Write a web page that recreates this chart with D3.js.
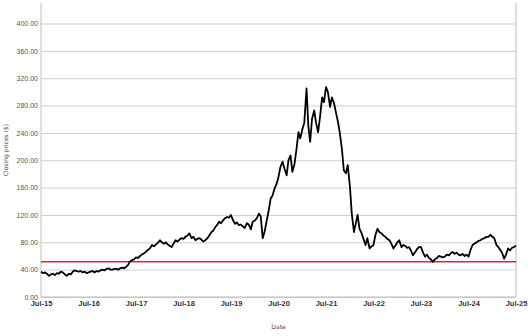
<!DOCTYPE html>
<html>
<head>
<meta charset="utf-8">
<script src="https://cdn.jsdelivr.net/npm/d3@7"></script>
<style>
  body { margin: 0; background: #fff; }
  svg { display: block; font-family: "DejaVu Sans", Verdana, sans-serif; }
  .grid line { stroke: #cfcfcf; stroke-width: 1; }
  .grid .domain { display: none; }
  .y text { fill: #555; font-size: 7px; }
  .x text { fill: #333; font-size: 7.5px; font-weight: bold; }
  .x .domain { display: none; }
</style>
</head>
<body>
<div id="chart"></div>
<script>
// semi-monthly closes
var dates = [
  "2015-07-01","2015-07-15","2015-08-01","2015-08-15","2015-09-01","2015-09-15","2015-10-01","2015-10-15","2015-11-01","2015-11-15","2015-12-01","2015-12-15",
  "2016-01-01","2016-01-15","2016-02-01","2016-02-15","2016-03-01","2016-03-15","2016-04-01","2016-04-15","2016-05-01","2016-05-15","2016-06-01","2016-06-15",
  "2016-07-01","2016-07-15","2016-08-01","2016-08-15","2016-09-01","2016-09-15","2016-10-01","2016-10-15","2016-11-01","2016-11-15","2016-12-01","2016-12-15",
  "2017-01-01","2017-01-15","2017-02-01","2017-02-15","2017-03-01","2017-03-15","2017-04-01","2017-04-15","2017-05-01","2017-05-15","2017-06-01","2017-06-15",
  "2017-07-01","2017-07-15","2017-08-01","2017-08-15","2017-09-01","2017-09-15","2017-10-01","2017-10-15","2017-11-01","2017-11-15","2017-12-01","2017-12-15",
  "2018-01-01","2018-01-15","2018-02-01","2018-02-15","2018-03-01","2018-03-15","2018-04-01","2018-04-15","2018-05-01","2018-05-15","2018-06-01","2018-06-15",
  "2018-07-01","2018-07-15","2018-08-01","2018-08-15","2018-09-01","2018-09-15","2018-10-01","2018-10-15","2018-11-01","2018-11-15","2018-12-01","2018-12-15",
  "2019-01-01","2019-01-15","2019-02-01","2019-02-15","2019-03-01","2019-03-15","2019-04-01","2019-04-15","2019-05-01","2019-05-15","2019-06-01","2019-06-15",
  "2019-07-01","2019-07-15","2019-08-01","2019-08-15","2019-09-01","2019-09-15","2019-10-01","2019-10-15","2019-11-01","2019-11-15","2019-12-01","2019-12-15",
  "2020-01-01","2020-01-15","2020-02-01","2020-02-15","2020-03-01","2020-03-15","2020-04-01","2020-04-15","2020-05-01","2020-05-15","2020-06-01","2020-06-15",
  "2020-07-01","2020-07-15","2020-08-01","2020-08-15","2020-09-01","2020-09-15","2020-10-01","2020-10-15","2020-11-01","2020-11-15","2020-12-01","2020-12-15",
  "2021-01-01","2021-01-15","2021-02-01","2021-02-15","2021-03-01","2021-03-15","2021-04-01","2021-04-15","2021-05-01","2021-05-15","2021-06-01","2021-06-15",
  "2021-07-01","2021-07-15","2021-08-01","2021-08-15","2021-09-01","2021-09-15","2021-10-01","2021-10-15","2021-11-01","2021-11-15","2021-12-01","2021-12-15",
  "2022-01-01","2022-01-15","2022-02-01","2022-02-15","2022-03-01","2022-03-15","2022-04-01","2022-04-15","2022-05-01","2022-05-15","2022-06-01","2022-06-15",
  "2022-07-01","2022-07-15","2022-08-01","2022-08-15","2022-09-01","2022-09-15","2022-10-01","2022-10-15","2022-11-01","2022-11-15","2022-12-01","2022-12-15",
  "2023-01-01","2023-01-15","2023-02-01","2023-02-15","2023-03-01","2023-03-15","2023-04-01","2023-04-15","2023-05-01","2023-05-15","2023-06-01","2023-06-15",
  "2023-07-01","2023-07-15","2023-08-01","2023-08-15","2023-09-01","2023-09-15","2023-10-01","2023-10-15","2023-11-01","2023-11-15","2023-12-01","2023-12-15",
  "2024-01-01","2024-01-15","2024-02-01","2024-02-15","2024-03-01","2024-03-15","2024-04-01","2024-04-15","2024-05-01","2024-05-15","2024-06-01","2024-06-15",
  "2024-07-01","2024-07-15","2024-08-01","2024-08-15","2024-09-01","2024-09-15","2024-10-01","2024-10-15","2024-11-01","2024-11-15","2024-12-01","2024-12-15",
  "2025-01-01","2025-01-15","2025-02-01","2025-02-15","2025-03-01","2025-03-15","2025-04-01","2025-04-15","2025-05-01","2025-05-15","2025-06-01","2025-06-15",
  "2025-07-01"
];

var closes = [
  37, 35, 36, 34, 31, 33, 34, 32, 35, 34, 37, 36,
  33, 31, 34, 33, 37, 39, 38, 37, 38, 36, 37, 35,
  36, 37, 38, 36, 38, 37, 39, 40, 39, 41, 42, 40,
  40, 41, 41, 40, 42, 43, 42, 44, 47, 52, 54, 55,
  58, 57, 60, 62, 64, 66, 69, 71, 76, 74, 77, 79,
  83, 80, 78, 80, 77, 75, 73, 78, 83, 81, 84, 86,
  85, 88, 90, 93, 86, 88, 83, 85, 86, 84, 81, 83,
  86, 90, 95, 97, 102, 105, 110, 108, 112, 115, 117, 116,
  120, 113, 107, 109, 105, 106, 103, 101, 108, 106, 99, 110,
  112, 115, 122, 118, 86, 95, 112, 125, 144, 148, 159, 165,
  176, 190, 198, 188, 178, 200, 207, 183, 195, 215, 241, 232,
  246, 255, 305, 250, 227, 260, 273, 255, 241, 262, 292, 285,
  307, 300, 278, 292, 283, 270, 256, 240, 215, 185, 181, 193,
  161, 122, 95, 108, 120, 100, 93, 85, 76, 86, 71, 74,
  76, 90, 100, 95, 93, 90, 88, 85, 83, 78, 71, 75,
  80, 83, 73, 76, 75, 72, 73, 68, 61, 65, 70, 73,
  73, 66, 59, 62, 57, 55, 51.5, 55, 57, 60, 59, 58,
  59, 62, 61, 64, 66, 63, 65, 62, 61, 63, 60, 62,
  59, 68, 76, 78, 80, 82, 83, 85, 86, 88, 88, 91,
  88, 86, 76, 73, 69, 65, 56, 62, 71, 68, 72, 73,
  75
];

var refLevel = 51.5;
var xTicks = ["2015-07-01","2016-07-01","2017-07-01","2018-07-01","2019-07-01","2020-07-01",
              "2021-07-01","2022-07-01","2023-07-01","2024-07-01","2025-07-01"];
var yTicks = [0, 40, 80, 120, 160, 200, 240, 280, 320, 360, 400];

var W = 528, H = 336;
var margin = {top: 3, right: 12, bottom: 39, left: 41};
var width = W - margin.left - margin.right,
    height = H - margin.top - margin.bottom;

var parse = d3.timeParse("%Y-%m-%d");
var data = dates.map(function(d, i) { return {date: parse(d), close: closes[i]}; });

var xScale = d3.scaleTime()
  .domain([parse("2015-07-01"), parse("2025-07-01")])
  .range([0, width]);

var yScale = d3.scaleLinear()
  .domain([0, 430])
  .range([height, 0]);

var svg = d3.select("#chart").append("svg")
    .attr("width", W)
    .attr("height", H)
  .append("g")
    .attr("transform", "translate(" + margin.left + "," + margin.top + ")");

// horizontal grid + y labels
svg.append("g")
  .attr("class", "grid y")
  .call(d3.axisLeft(yScale)
    .tickValues(yTicks)
    .tickFormat(d3.format(".2f"))
    .tickSize(-width)
    .tickPadding(3));

// frame: left, bottom, right
svg.append("line").attr("x1", 0).attr("x2", 0).attr("y1", 0).attr("y2", height)
  .attr("stroke", "#bdbdbd");
svg.append("line").attr("x1", width).attr("x2", width).attr("y1", 0).attr("y2", height)
  .attr("stroke", "#bdbdbd");
svg.append("line").attr("x1", 0).attr("x2", width).attr("y1", height).attr("y2", height)
  .attr("stroke", "#bdbdbd");

svg.append("g")
  .attr("class", "x")
  .attr("transform", "translate(0," + height + ")")
  .call(d3.axisBottom(xScale)
    .tickValues(xTicks.map(parse))
    .tickFormat(d3.timeFormat("%b-%y"))
    .tickSize(0)
    .tickPadding(4));

// reference level
svg.append("line")
  .attr("x1", 0).attr("x2", width)
  .attr("y1", yScale(refLevel)).attr("y2", yScale(refLevel))
  .attr("stroke", "#e3262b")
  .attr("stroke-width", 1.5);

var line = d3.line()
  .x(function(d) { return xScale(d.date); })
  .y(function(d) { return yScale(d.close); });

svg.append("path")
  .datum(data)
  .attr("fill", "none")
  .attr("stroke", "#000")
  .attr("stroke-width", 1.8)
  .attr("stroke-linejoin", "round")
  .attr("d", line);

// axis titles
svg.append("text")
  .attr("x", width / 2)
  .attr("y", height + 32)
  .attr("text-anchor", "middle")
  .style("font-size", "6px")
  .style("fill", "#444")
  .text("Date");

svg.append("text")
  .attr("transform", "translate(" + (-33) + "," + (height / 2) + ") rotate(-90)")
  .attr("text-anchor", "middle")
  .style("font-size", "6px")
  .style("fill", "#444")
  .text("Closing prices ($)");
</script>
</body>
</html>
